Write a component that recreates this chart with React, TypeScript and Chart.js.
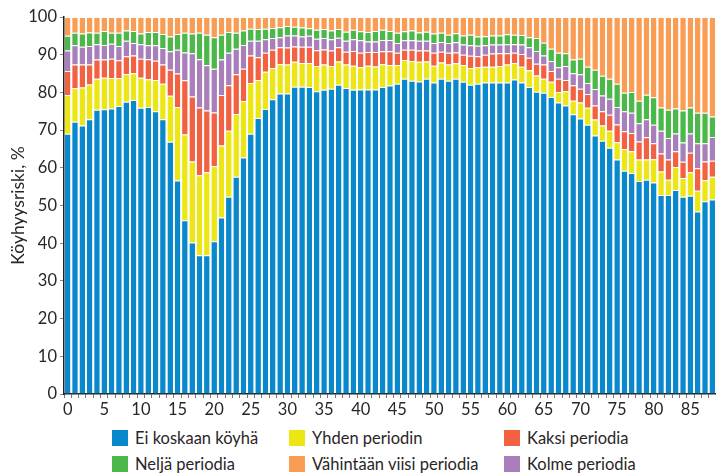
import React, { useEffect, useRef } from "react";
import { Chart, registerables } from "chart.js";

Chart.register(...registerables);

const categories: string[] = Array.from({ length: 89 }, (_, i) => String(i));

const eiKoskaan = [69.0, 72.2, 71.2, 72.9, 75.4, 75.5, 75.7, 76.4, 77.5, 78.0, 75.9, 76.1, 75.0, 72.9, 66.9, 56.6, 46.1, 40.2, 36.8, 36.8, 40.5, 46.8, 52.3, 57.6, 62.7, 69.0, 73.2, 75.6, 78.2, 79.7, 79.7, 81.5, 81.5, 81.4, 80.3, 80.7, 81.0, 82.0, 81.2, 80.7, 80.8, 80.8, 80.8, 81.4, 81.8, 82.3, 83.6, 83.1, 82.9, 83.6, 82.6, 83.6, 83.1, 83.6, 82.8, 82.0, 82.3, 82.6, 82.6, 82.6, 82.6, 83.4, 82.6, 81.4, 80.2, 79.9, 78.8, 77.3, 76.5, 74.2, 73.1, 71.4, 68.6, 67.2, 65.3, 62.2, 59.2, 58.6, 56.5, 56.8, 56.1, 52.8, 52.8, 54.1, 52.3, 52.6, 48.4, 51.1, 51.6];
const yhden = [10.3, 8.9, 10.1, 9.2, 8.2, 8.4, 8.1, 7.4, 7.4, 7.1, 8.0, 7.4, 8.3, 9.4, 12.2, 19.5, 22.7, 21.5, 21.2, 22.0, 20.0, 19.1, 17.5, 16.7, 15.0, 13.5, 10.1, 9.9, 8.3, 7.8, 7.7, 6.6, 6.3, 6.4, 6.7, 6.7, 6.0, 6.2, 6.2, 6.4, 5.9, 6.3, 6.1, 6.1, 5.5, 5.0, 5.0, 5.2, 5.2, 4.6, 4.5, 4.3, 4.3, 4.1, 4.5, 4.5, 4.4, 4.2, 4.2, 4.4, 4.8, 4.4, 4.2, 4.5, 4.3, 3.7, 4.0, 2.8, 3.8, 3.6, 4.2, 4.5, 4.2, 4.0, 4.5, 4.6, 5.8, 5.8, 5.7, 5.4, 6.2, 6.2, 4.0, 6.1, 5.0, 6.2, 5.5, 5.6, 6.0];
const kaksi = [6.4, 6.3, 6.1, 5.3, 5.1, 4.8, 5.1, 4.7, 4.7, 4.7, 5.0, 5.3, 5.1, 5.1, 6.9, 8.9, 14.4, 17.2, 18.0, 16.4, 14.2, 13.4, 12.1, 10.5, 8.6, 7.3, 6.0, 5.0, 4.8, 4.5, 4.5, 4.1, 4.3, 4.3, 4.2, 4.0, 4.1, 3.8, 3.4, 3.9, 3.8, 3.6, 3.8, 3.4, 3.6, 3.2, 2.7, 3.0, 3.0, 2.9, 3.4, 2.9, 3.1, 2.9, 2.7, 3.2, 2.9, 3.2, 3.5, 3.4, 3.0, 2.7, 3.4, 3.3, 3.1, 3.8, 2.9, 3.5, 3.0, 4.1, 3.7, 3.7, 3.7, 3.8, 4.3, 4.7, 4.7, 4.8, 4.8, 5.9, 4.2, 4.8, 5.4, 4.2, 4.3, 5.2, 6.0, 5.0, 4.3];
const kolme = [5.4, 5.1, 4.7, 4.9, 4.1, 3.9, 4.0, 3.8, 4.1, 3.3, 3.9, 3.7, 4.1, 4.4, 4.9, 6.3, 7.4, 11.5, 12.8, 12.0, 11.6, 9.4, 8.6, 6.8, 6.3, 3.9, 4.4, 3.6, 3.1, 2.6, 3.2, 2.9, 2.7, 2.9, 3.0, 3.0, 3.0, 2.5, 2.9, 3.1, 3.3, 2.8, 2.8, 3.0, 3.0, 2.6, 2.5, 2.5, 2.6, 2.6, 2.6, 2.6, 2.6, 2.7, 2.7, 2.8, 2.8, 2.5, 2.4, 2.3, 2.4, 2.3, 2.5, 2.8, 3.4, 2.4, 2.6, 3.1, 3.7, 3.2, 3.8, 2.9, 4.4, 4.2, 4.2, 4.6, 5.3, 5.4, 4.8, 4.8, 4.9, 6.0, 5.7, 4.7, 5.1, 5.1, 6.6, 4.8, 6.3];
const nelja = [3.9, 3.3, 3.5, 3.6, 3.0, 3.7, 2.9, 3.5, 2.7, 3.2, 2.8, 3.5, 3.5, 3.7, 3.9, 4.2, 5.2, 5.2, 7.0, 8.1, 8.3, 6.6, 5.5, 4.2, 3.8, 3.2, 3.1, 2.8, 2.7, 2.7, 2.5, 2.3, 2.4, 2.0, 2.4, 2.4, 2.3, 2.3, 2.4, 2.5, 2.4, 2.5, 2.8, 2.7, 2.4, 2.7, 2.4, 2.6, 2.2, 2.4, 2.5, 2.4, 2.2, 2.4, 2.4, 2.8, 2.4, 2.4, 2.4, 2.4, 2.6, 2.5, 2.5, 2.6, 3.4, 3.4, 3.3, 3.8, 3.4, 3.6, 4.1, 4.3, 5.1, 5.2, 5.3, 6.2, 4.9, 5.5, 6.0, 6.5, 7.3, 6.2, 7.5, 6.6, 8.5, 6.9, 8.1, 8.1, 5.4];
const viisi = [5.0, 4.2, 4.4, 4.1, 4.2, 3.7, 4.2, 4.2, 3.6, 3.7, 4.4, 4.0, 4.0, 4.5, 5.2, 4.5, 4.2, 4.4, 4.2, 4.7, 5.4, 4.7, 4.0, 4.2, 3.6, 3.1, 3.2, 3.1, 2.9, 2.7, 2.4, 2.6, 2.8, 3.0, 3.4, 3.2, 3.6, 3.2, 3.9, 3.4, 3.8, 4.0, 3.7, 3.4, 3.7, 4.2, 3.8, 3.6, 4.1, 3.9, 4.4, 4.2, 4.7, 4.3, 4.9, 4.7, 5.2, 5.1, 4.9, 4.9, 4.6, 4.7, 4.8, 5.4, 5.6, 6.8, 8.4, 9.5, 9.6, 11.3, 11.1, 13.2, 14.0, 15.6, 16.4, 17.7, 20.1, 19.9, 22.2, 20.6, 21.3, 24.0, 24.6, 24.3, 24.8, 24.0, 25.4, 25.4, 26.4];

const seriesNames = ["Ei koskaan köyhä", "Yhden periodin", "Kaksi periodia", "Kolme periodia", "Neljä periodia", "Vähintään viisi periodia"];
const seriesColors = ["#0a88cc", "#ece714", "#f26242", "#a87fbb", "#4cb849", "#f99d55"];
const seriesData = [eiKoskaan, yhden, kaksi, kolme, nelja, viisi];
const legendOrder = [0, 1, 2, 4, 5, 3];
const yTicks = [0, 10, 20, 30, 40, 50, 60, 70, 80, 90, 100];

const FONT = "Lato, 'Open Sans', sans-serif";
const TEXT = "#2a2627";

export default function App() {
  const ref = useRef<HTMLCanvasElement | null>(null);
  useEffect(() => {
    if (!ref.current) return;
    const chart = new Chart(ref.current, {
      type: "bar",
      data: {
        labels: categories,
        datasets: seriesData.map((d, i) => ({
          label: seriesNames[i],
          data: d,
          backgroundColor: seriesColors[i],
          borderColor: "rgba(255,255,255,0.45)",
          borderWidth: { top: 1, left: 0, right: 0, bottom: 0 },
          borderSkipped: false,
          barPercentage: 0.76,
          categoryPercentage: 1,
        })),
      },
      options: {
        responsive: false,
        animation: false,
        maintainAspectRatio: false,
        layout: { padding: { top: 17, right: 0, left: 0, bottom: 0 } },
        plugins: { legend: { display: false }, tooltip: { enabled: false } },
        scales: {
          x: {
            stacked: true,
            offset: true,
            afterFit: (s: any) => { s.height = 31; },
            border: { color: "#222", width: 1.5 },
            grid: { offset: true, drawOnChartArea: false, drawTicks: true, tickLength: 4, color: "#777" },
            ticks: {
              autoSkip: false,
              maxRotation: 0,
              padding: 2,
              color: TEXT,
              font: { family: FONT, size: 16.5 },
              callback: (v: any, i: number) => (i % 5 === 0 ? categories[i] : ""),
            },
          },
          y: {
            stacked: true,
            min: 0,
            max: 100,
            afterFit: (s: any) => { s.width = 64; },
            afterBuildTicks: (s: any) => { s.ticks = yTicks.map((v) => ({ value: v })); },
            border: { color: "#222", width: 1.5 },
            grid: { drawOnChartArea: false, drawTicks: true, tickLength: 4, color: "#888" },
            ticks: { padding: 3, color: TEXT, font: { family: FONT, size: 16.5 } },
            title: { display: true, text: "Köyhyysriski, %", color: TEXT, font: { family: FONT, size: 17.5 }, padding: { top: 8, bottom: 0 } },
          },
        },
      },
    });
    return () => chart.destroy();
  }, []);

  const colX = [112, 289, 504];
  const rowY = [429, 455];
  return (
    <div style={{ position: "fixed", left: 0, top: 0, width: 716, height: 475, background: "#fff", overflow: "hidden" }}>
      <canvas ref={ref} width={716} height={425} style={{ display: "block", width: 716, height: 425 }} />
      {legendOrder.map((si, k) => {
        const col = k % 3;
        const row = Math.floor(k / 3);
        return (
          <div key={si} style={{ position: "absolute", left: colX[col], top: rowY[row], height: 18, display: "flex", alignItems: "center", fontFamily: FONT, fontSize: 16.5, color: TEXT, whiteSpace: "nowrap" }}>
            <span style={{ display: "inline-block", width: 16, height: 16, background: seriesColors[si], marginRight: 7 }} />
            <span>{seriesNames[si]}</span>
          </div>
        );
      })}
    </div>
  );
}
